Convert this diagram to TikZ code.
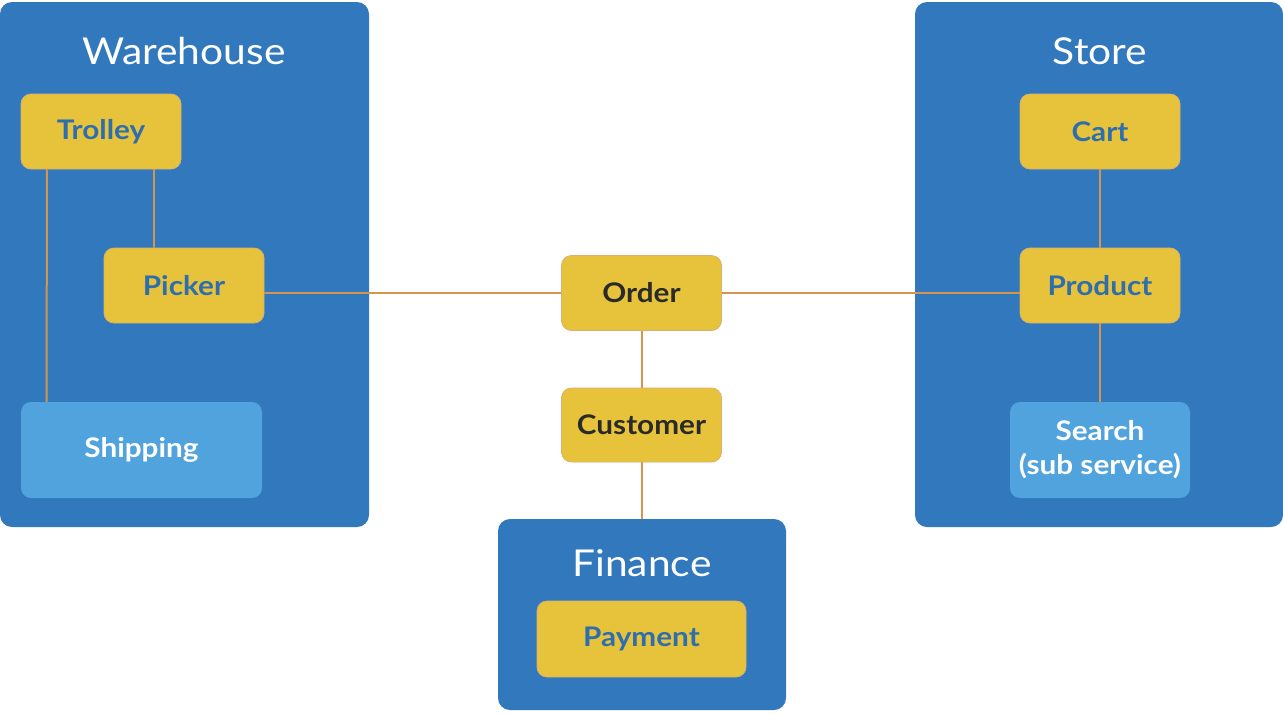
\documentclass[tikz,border=0pt]{standalone}
\usepackage{fontspec}
\setmainfont{Lato}[FakeStretch=1.1]
\definecolor{domain}{HTML}{3278BD}
\definecolor{ent}{HTML}{E7C33C}
\definecolor{entedge}{HTML}{D9B070}
\definecolor{sub}{HTML}{51A3DE}
\definecolor{link}{HTML}{D4954E}
\definecolor{bluetext}{HTML}{2F6EAD}
\definecolor{darktext}{HTML}{2A2A2A}
\tikzset{
  domainbox/.style={fill=domain, rounded corners=12pt, inner sep=0pt},
  entbox/.style={fill=ent, draw=entedge, line width=0.8pt, rounded corners=10pt, inner sep=0pt,
    minimum width=160pt, minimum height=75pt, font=\fontsize{27}{30}\selectfont\bfseries, text=bluetext},
  corebox/.style={entbox, text=darktext},
  subbox/.style={fill=sub, rounded corners=10pt, inner sep=0pt, align=center,
    font=\fontsize{27}{34}\selectfont\bfseries, text=white},
  title/.style={text=white, font=\fontsize{37}{40}\selectfont, inner sep=0pt},
  linkline/.style={draw=link, line width=2pt}
}
\begin{document}
\begin{tikzpicture}[x=1pt,y=-1pt]
\useasboundingbox[fill=white] (0,0) rectangle (1283,713);
% domains
\node[domainbox, minimum width=369pt, minimum height=525pt] (wh) at (184.5,264.5) {};
\node[domainbox, minimum width=368pt, minimum height=525pt] (st) at (1099,264.5) {};
\node[domainbox, minimum width=288pt, minimum height=191pt] (fin) at (642,614.5) {};
\node[title] (whT) at (184,51) {Warehouse};
\node[title] (stT) at (1100,51) {Store};
\node[title] (finT) at (642,563) {Finance};
% sub services
\node[subbox, minimum width=241pt, minimum height=96pt] (ship) at (141.5,450) {Shipping};
\node[subbox, minimum width=180pt, minimum height=96pt] (search) at (1100,450) {Search\\(sub service)};
% entities
\node[entbox] (trolley) at (101,131.5) {Trolley};
\node[entbox] (picker) at (184,285.5) {Picker};
\node[entbox] (cart) at (1100,131.5) {Cart};
\node[entbox] (product) at (1100,285.5) {Product};
\node[corebox] (order) at (641.5,293) {Order};
\node[corebox, minimum height=74pt] (customer) at (641.5,425) {Customer};
\node[entbox, minimum width=209pt, minimum height=76pt] (payment) at (641.5,639) {Payment};
% connectors
\draw[linkline] ([xshift=-54pt]trolley.south) -- ([xshift=-95pt]ship.north);
\draw[linkline] ([xshift=53pt]trolley.south) -- ([xshift=-30pt]picker.north);
\draw[linkline] (picker.east |- order.west) -- (order.west);
\draw[linkline] (order.east) -- (product.west |- order.east);
\draw[linkline] (order.south) -- (customer.north);
\draw[linkline] (customer.south) -- (fin.north -| customer.south);
\draw[linkline] (cart.south) -- (product.north);
\draw[linkline] (product.south) -- (search.north);
\end{tikzpicture}
\end{document}
